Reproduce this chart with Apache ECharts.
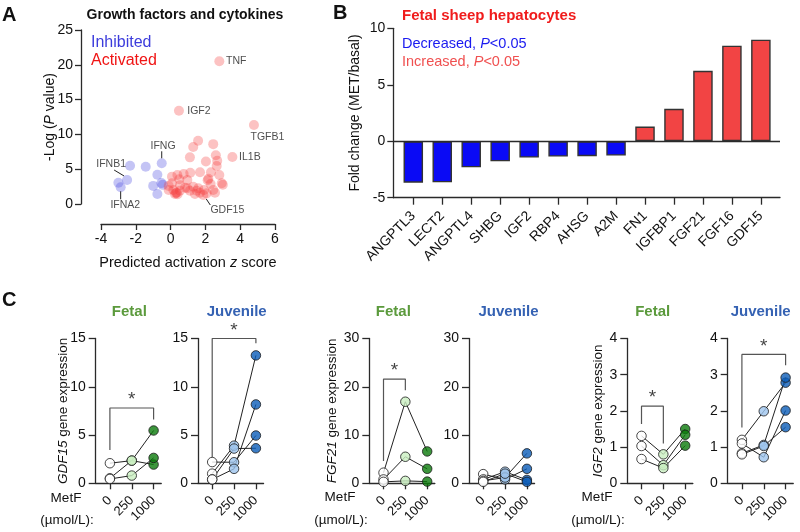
<!DOCTYPE html>
<html><head><meta charset="utf-8">
<script src="https://cdn.jsdelivr.net/npm/echarts@6/dist/echarts.min.js"></script>
<style>html,body{margin:0;padding:0;background:#fff}#c{width:800px;height:532px}</style>
</head><body><div id="c"></div>
<script>
// ---------------- DATA ----------------
// Panel A: upstream regulators (z score, -log P)
const inhibitedZ     = [-2.33, -2.50, -3.00, -2.87, -1.43, -0.51, -0.76, -1.00, -0.53, -0.45, -0.76];
const inhibitedLogP  = [ 5.50,  3.45,  3.06,  2.40,  5.36,  5.85,  4.20,  2.60,  3.00,  2.75,  1.44];
const inhibitedGenes = ['', 'IFNB1', '', 'IFNA2', '', 'IFNG', '', '', '', '', ''];

const activatedZ     = [2.80, 0.48, 4.79, 3.55, 1.88, 1.58, 1.30, 2.45, 2.60, 2.68, 1.11, 2.03, 2.65, 1.13, 1.69, 2.32, 2.80, 0.39, 0.75, 0.08, 0.50, 0.96, 2.17, 2.30, 2.94, 3.00, 0.08, 0.54, 0.83, 1.30, 0.16, 0.35, 0.25, 0.54, 1.11, 1.50, 1.69, 1.92, 2.07, 2.45, 2.55, 0.96, -0.11, -0.11, 1.40, 1.59, 0.40, 0.30, 2.13];
const activatedLogP  = [20.5, 13.4, 11.35, 6.75, 1.29, 9.10, 8.20, 8.60, 7.00, 6.20, 6.70, 6.10, 5.46, 4.50, 4.55, 4.55, 4.17, 4.17, 4.30, 3.93, 3.55, 3.45, 3.64, 2.87, 2.97, 2.77, 2.97, 2.69, 2.34, 2.49, 2.00, 1.62, 1.44, 1.91, 1.91, 1.91, 1.62, 2.00, 1.53, 2.00, 1.62, 2.26, 2.00, 2.60, 1.44, 2.26, 1.40, 1.60, 3.40];
const activatedGenes = ['TNF', 'IGF2', 'TGFB1', 'IL1B', 'GDF15'];

// Panel B: fold change (MET/basal)
const bGenes = ['ANGPTL3','LECT2','ANGPTL4','SHBG','IGF2','RBP4','AHSG','A2M','FN1','IGFBP1','FGF21','FGF16','GDF15'];
const bFold  = [-3.67, -3.64, -2.31, -1.78, -1.45, -1.36, -1.33, -1.27, 1.30, 2.87, 6.24, 8.46, 8.99];

// Panel C: gene expression per replicate at MetF 0, 250, 1000 umol/L
const doseLabels = ['0', '250', '1000'];
const gdf15Fetal    = [[2.08, 2.35, 1.94], [0.52, 2.35, 5.47], [0.45, 0.80, 2.63]];
const gdf15Juvenile = [[2.20, 2.18, 4.95], [1.00, 3.90, 13.25], [0.40, 3.60, 3.63], [0.40, 1.50, 8.17]];
const fgf21Fetal    = [[2.20, 16.9, 6.60], [0.80, 5.50, 3.00], [0.30, 0.50, 0.35]];
const fgf21Juvenile = [[1.90, 0.80, 3.00], [0.80, 2.40, 0.70], [0.50, 1.20, 6.20], [0.30, 2.00, 0.30]];
const igf2Fetal     = [[1.31, 0.80, 1.50], [1.03, 0.50, 1.34], [0.67, 0.42, 1.04]];
const igf2Juvenile  = [[1.20, 1.99, 2.78], [1.10, 0.72, 2.01], [0.83, 1.06, 2.92], [0.80, 1.03, 1.55]];
// significance brackets: [fromDose, toDose, leftEnd, top, rightEnd]
const gdf15FetalSig    = [0, 2, 3.46, 7.8, 6.6];
const gdf15JuvenileSig = [0, 2, 2.7, 15.0, 14.5];
const fgf21FetalSig    = [0, 1, 4.6, 21.6, 19.3];
const igf2FetalSig     = [0, 1, 1.64, 2.13, 1.10];
const igf2JuvenileSig  = [0, 2, 1.54, 3.56, 3.26];

// ---------------- STYLE ----------------
const FONT = '"Liberation Sans", Arial, Helvetica, sans-serif';
const AX = '#2a2a2a', TX = '#111';
const BLUE_PT = 'rgba(80,80,225,0.42)', RED_PT = 'rgba(245,55,55,0.38)';
const doseColors = { fetal: ['#ffffff', '#c9efc0', '#0b7a0b'], juvenile: ['#ffffff', '#9ec4ee', '#0b5cb8'] };
// label offsets (px) from point centre, and leader line ends (px, from point centre)
const labelOffsets = { TNF:[17,0], IGF2:[20,0], TGFB1:[13.5,12.5], IL1B:[17.5,0], IFNG:[1.3,-17.5], IFNB1:[-16,-16], IFNA2:[4.6,17.7], GDF15:[24,15] };
const leaderLines = { IFNG:[[0,-5],[0,-12]], IFNB1:[[-3,-4],[-13,-10]], IFNA2:[[0,4],[0,12]], GDF15:[[3,4],[7,10]] };

function axisBase(extra) {
  return Object.assign({
    nameMoveOverlap: false,
    axisLine: { show: true, onZero: false, lineStyle: { color: AX, width: 1.3 } },
    axisTick: { show: true, length: 6, lineStyle: { color: AX, width: 1.3 } },
    axisLabel: { color: TX, fontFamily: FONT, fontSize: 14 },
    splitLine: { show: false }
  }, extra);
}
function nameStyle(size) {
  return { color: TX, fontFamily: FONT, fontSize: size, rich: {
    n: { color: TX, fontFamily: FONT, fontSize: size },
    i: { color: TX, fontFamily: FONT, fontSize: size, fontStyle: 'italic' } } };
}
function txt(x, y, text, o) {
  o = o || {};
  const align = o.align || 'left';
  const style = {
    text: text, x: 0, y: 0, fontFamily: FONT, fontSize: o.size || 14, fontWeight: o.bold ? 'bold' : 'normal',
    fill: o.color || TX, align: align, verticalAlign: 'middle', textAlign: align, textVerticalAlign: 'middle'
  };
  if (o.rich) style.rich = o.rich;
  return { type: 'text', x: x, y: y, silent: true, style: style };
}
function richFor(color, size) {
  return {
    n: { fill: color, color: color, fontFamily: FONT, fontSize: size },
    i: { fill: color, color: color, fontFamily: FONT, fontSize: size, fontStyle: 'italic' }
  };
}

// ---------------- BUILD ----------------
const grid = [], xAxis = [], yAxis = [], series = [];

// Panel A
grid.push({ left: 101, top: 30, width: 174, height: 174 });
xAxis.push(axisBase({ gridIndex: 0, type: 'value', min: -4, max: 6, interval: 2, offset: 20,
  name: 'Predicted activation {i|z} score', nameLocation: 'middle', nameGap: 31, nameTextStyle: nameStyle(14.5) }));
yAxis.push(axisBase({ gridIndex: 0, type: 'value', min: 0, max: 25, interval: 5, offset: 20,
  name: '-Log ({i|P} value)', nameLocation: 'middle', nameGap: 24, nameRotate: 90, nameTextStyle: nameStyle(14) }));

function scatterA(zs, ps, genes, color) {
  const data = zs.map(function (z, k) {
    const g = genes[k] || '';
    const item = { value: [z, ps[k]], name: g };
    if (g) item.label = { show: true };
    return item;
  });
  return {
    type: 'scatter', xAxisIndex: 0, yAxisIndex: 0, symbolSize: 10, data: data,
    itemStyle: { color: color, borderWidth: 0 },
    label: { show: false, position: 'inside', formatter: '{b}', color: '#222', fontFamily: FONT, fontSize: 10.5 },
    labelLayout: function (p) {
      const o = labelOffsets[genes[p.dataIndex]];
      return o ? { dx: o[0], dy: o[1] } : {};
    },
    emphasis: { disabled: true }, z: 3
  };
}
series.push(scatterA(inhibitedZ, inhibitedLogP, inhibitedGenes, BLUE_PT));
series.push(scatterA(activatedZ, activatedLogP, activatedGenes, RED_PT));

// leader lines drawn from each labelled point through the axis scales
const leaderItems = [];
[[inhibitedZ, inhibitedLogP, inhibitedGenes], [activatedZ, activatedLogP, activatedGenes]].forEach(function (set) {
  set[2].forEach(function (g, k) { if (leaderLines[g]) leaderItems.push({ value: [set[0][k], set[1][k]], gene: g }); });
});
series.push({
  type: 'custom', coordinateSystem: 'cartesian2d', xAxisIndex: 0, yAxisIndex: 0, silent: true, z: 5,
  dimensions: ['z', 'p'], encode: { x: 0, y: 1 },
  data: leaderItems.map(function (d) { return d.value; }),
  renderItem: function (params, api) {
    const c = api.coord([api.value(0), api.value(1)]);
    const seg = leaderLines[leaderItems[params.dataIndex].gene];
    return { type: 'line', shape: { x1: c[0] + seg[0][0], y1: c[1] + seg[0][1], x2: c[0] + seg[1][0], y2: c[1] + seg[1][1] },
      style: { stroke: '#222', lineWidth: 1, fill: null } };
  }
});

// Panel B
grid.push({ left: 393.3, top: 28.3, width: 386.7, height: 169.4 });
const bIdx = bGenes.map(function (g, k) { return k; });
xAxis.push(axisBase({ gridIndex: 1, type: 'value', min: -0.69, max: 12.66,
  axisTick: { show: true, length: 7, customValues: bIdx, lineStyle: { color: AX, width: 1.3 } },
  axisLabel: { customValues: bIdx, rotate: 45, margin: 16, color: TX, fontFamily: FONT, fontSize: 14,
    formatter: function (v) { return bGenes[Math.round(v)]; } } }));
yAxis.push(axisBase({ gridIndex: 1, type: 'value', min: -5, max: 10, interval: 5,
  name: 'Fold change (MET/basal)', nameLocation: 'middle', nameGap: 31, nameRotate: 90, nameTextStyle: nameStyle(14) }));
series.push({
  type: 'bar', xAxisIndex: 1, yAxisIndex: 1, barWidth: 19.5,
  data: bFold.map(function (v, k) {
    return { value: [k, v], itemStyle: { color: v < 0 ? '#0a0af5' : '#f24444' } };
  }),
  itemStyle: { borderColor: '#333', borderWidth: 1.4 },
  markLine: { silent: true, symbol: 'none', label: { show: false }, animation: false,
    lineStyle: { color: AX, width: 1.3, type: 'solid' }, data: [{ yAxis: 0 }] },
  emphasis: { disabled: true }, z: 2
});

// Panel C
const cPanels = [
  { left: 95.7,  max: 15, interval: 5,  reps: gdf15Fetal,    group: 'fetal',    gene: 'GDF15', gap: 25, sig: gdf15FetalSig },
  { left: 198,   max: 15, interval: 5,  reps: gdf15Juvenile, group: 'juvenile', gene: null,    sig: gdf15JuvenileSig },
  { left: 369.3, max: 30, interval: 10, reps: fgf21Fetal,    group: 'fetal',    gene: 'FGF21', gap: 30, sig: fgf21FetalSig },
  { left: 469,   max: 30, interval: 10, reps: fgf21Juvenile, group: 'juvenile', gene: null,    sig: null },
  { left: 627.3, max: 4,  interval: 1,  reps: igf2Fetal,     group: 'fetal',    gene: 'IGF2',  gap: 22, sig: igf2FetalSig },
  { left: 727.7, max: 4,  interval: 1,  reps: igf2Juvenile,  group: 'juvenile', gene: null,    sig: igf2JuvenileSig }
];
cPanels.forEach(function (p, n) {
  const gi = 2 + n;
  grid.push({ left: p.left, top: 338.5, width: 65.55, height: 144.8 });
  xAxis.push(axisBase({ gridIndex: gi, type: 'value', min: -0.65, max: 2.35,
    axisTick: { show: true, length: 6, customValues: [0, 1, 2], lineStyle: { color: AX, width: 1.3 } },
    axisLabel: { customValues: [0, 1, 2], rotate: 45, margin: 15, color: TX, fontFamily: FONT, fontSize: 13,
      formatter: function (v) { return doseLabels[Math.round(v)]; } } }));
  const ya = axisBase({ gridIndex: gi, type: 'value', min: 0, max: p.max, interval: p.interval,
    axisTick: { show: true, length: 7, lineStyle: { color: AX, width: 1.3 } },
    axisLabel: { color: TX, fontFamily: FONT, fontSize: 14, margin: 10 } });
  if (p.gene) {
    ya.name = '{i|' + p.gene + '} gene expression';
    ya.nameLocation = 'middle'; ya.nameRotate = 90; ya.nameGap = p.gap;
    ya.nameTextStyle = nameStyle(13.5);
  }
  yAxis.push(ya);
  p.reps.forEach(function (r) {
    series.push({ type: 'line', xAxisIndex: gi, yAxisIndex: gi, showSymbol: false, symbol: 'none',
      data: r.map(function (v, d) { return [d, v]; }),
      lineStyle: { color: '#222', width: 1 }, emphasis: { disabled: true }, z: 2 });
  });
  const pts = [];
  p.reps.forEach(function (r) {
    r.forEach(function (v, d) { pts.push({ value: [d, v], itemStyle: { color: doseColors[p.group][d] } }); });
  });
  series.push({ type: 'scatter', xAxisIndex: gi, yAxisIndex: gi, symbolSize: 9.5, data: pts,
    itemStyle: { borderColor: '#1a1a1a', borderWidth: 1 }, emphasis: { disabled: true }, z: 4 });
  if (p.sig) {
    const s = p.sig;
    series.push({ type: 'line', xAxisIndex: gi, yAxisIndex: gi, showSymbol: false, symbol: 'none', clip: false,
      data: [[s[0], s[2]], [s[0], s[3]], [s[1], s[3]], [s[1], s[4]]],
      lineStyle: { color: '#555', width: 1.2 }, emphasis: { disabled: true }, z: 1 });
    series.push({ type: 'scatter', xAxisIndex: gi, yAxisIndex: gi, symbolSize: 1, clip: false,
      itemStyle: { color: 'rgba(0,0,0,0)' },
      data: [[(s[0] + s[1]) / 2, s[3]]],
      label: { show: true, position: 'top', distance: -2, formatter: '*', color: '#111', fontFamily: FONT, fontSize: 19 },
      emphasis: { disabled: true }, z: 1 });
  }
});

// ---------------- TEXT ----------------
const FETAL_C = '#5b9a3c', JUV_C = '#3562b3';
const graphic = [
  txt(2, 15, 'A', { size: 20, bold: true }),
  txt(333, 13, 'B', { size: 20, bold: true }),
  txt(2, 300, 'C', { size: 20, bold: true }),
  txt(185, 15, 'Growth factors and cytokines', { size: 14, bold: true, align: 'center' }),
  txt(91, 43, 'Inhibited', { size: 16, color: '#3c3cdc' }),
  txt(91, 61, 'Activated', { size: 16, color: '#f01414' }),
  txt(402, 16, 'Fetal sheep hepatocytes', { size: 15, bold: true, color: '#f01c1c' }),
  txt(402, 44, '{n|Decreased, }{i|P}{n|<0.05}', { size: 14.5, color: '#1a1af0', rich: richFor('#1a1af0', 14.5) }),
  txt(402, 62, '{n|Increased, }{i|P}{n|<0.05}', { size: 14.5, color: '#f05050', rich: richFor('#f05050', 14.5) }),
  txt(129.3, 312, 'Fetal', { size: 15, bold: true, color: FETAL_C, align: 'center' }),
  txt(236.7, 312, 'Juvenile', { size: 15, bold: true, color: JUV_C, align: 'center' }),
  txt(393.3, 312, 'Fetal', { size: 15, bold: true, color: FETAL_C, align: 'center' }),
  txt(508.5, 312, 'Juvenile', { size: 15, bold: true, color: JUV_C, align: 'center' }),
  txt(652.7, 312, 'Fetal', { size: 15, bold: true, color: FETAL_C, align: 'center' }),
  txt(760.7, 312, 'Juvenile', { size: 15, bold: true, color: JUV_C, align: 'center' }),
  txt(66, 498, 'MetF', { size: 13.5, align: 'center' }),
  txt(67, 520, '(µmol/L):', { size: 13.5, align: 'center' }),
  txt(340, 497, 'MetF', { size: 13.5, align: 'center' }),
  txt(341, 520, '(µmol/L):', { size: 13.5, align: 'center' }),
  txt(597, 497, 'MetF', { size: 13.5, align: 'center' }),
  txt(598, 520, '(µmol/L):', { size: 13.5, align: 'center' })
];

const chart = echarts.init(document.getElementById('c'), null, { renderer: 'canvas', width: 800, height: 532 });
chart.setOption({
  animation: false,
  backgroundColor: '#ffffff',
  textStyle: { fontFamily: FONT },
  grid: grid, xAxis: xAxis, yAxis: yAxis, series: series, graphic: graphic
});
</script>
</body></html>
